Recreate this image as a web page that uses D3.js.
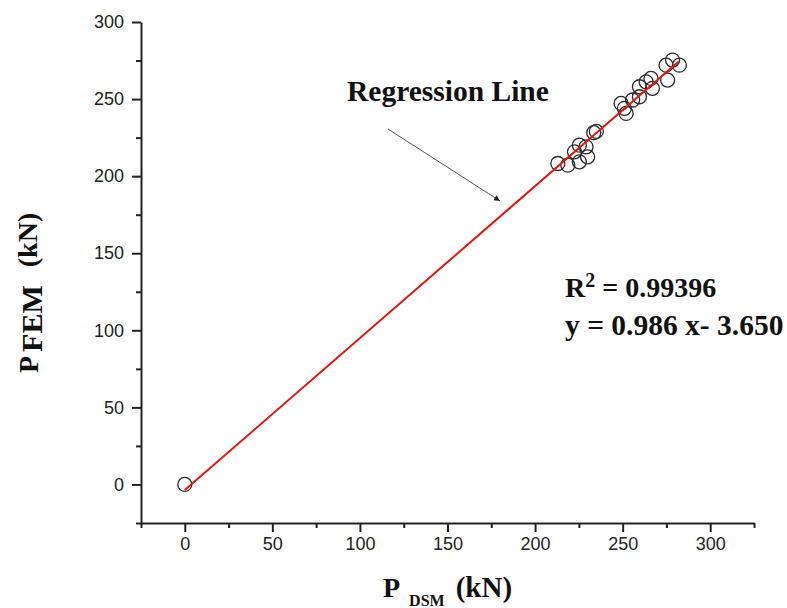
<!DOCTYPE html>
<html>
<head>
<meta charset="utf-8">
<script src="https://cdn.jsdelivr.net/npm/d3@7"></script>
<style>
    body { margin: 0; background: #fff; }
    .tick text { font-family: "Liberation Sans", Arial, sans-serif; font-size: 18px; fill: #222; }
    .lbl { font-family: "Liberation Serif", "Times New Roman", serif; font-weight: bold; fill: #111; }
</style>
</head>
<body>
<div id="chart-area"></div>
<script>

// data
let pDSM = [0, 213, 218.7, 222.5, 225.3, 229.1, 230, 225.3, 233.5, 235,
    249.1, 252, 251, 255.7, 259.6, 259.6, 263.4, 266.2, 267, 275.7, 274.8, 278.5, 282.4];
let pFEM = [0, 208.2, 207.1, 215.8, 220.1, 219, 212.5, 209.3, 228.2, 229,
    247.2, 240.7, 244, 249.4, 251.5, 258, 261.2, 263.4, 257, 262.3, 272, 275.3, 272];

let xMajorTicks = [0, 50, 100, 150, 200, 250, 300];
let xMinorTicks = [-25, 25, 75, 125, 175, 225, 275, 325];
let yMajorTicks = [0, 50, 100, 150, 200, 250, 300];
let yMinorTicks = [-25, 25, 75, 125, 175, 225, 275];

// regression y = 0.986 x - 3.650
let slope = 0.986;
let intercept = -3.650;
let fitRange = [0, 282];


class ScatterVis {

    constructor(parentElement) {
        this.parentElement = parentElement;
        this.displayData = pDSM.map((d, i) => ({x: d, y: pFEM[i]}));
        this.initVis();
    }

    initVis() {
        let vis = this;

        vis.width = 787;
        vis.height = 608;

        vis.svg = d3.select("#" + vis.parentElement).append("svg")
            .attr("width", vis.width)
            .attr("height", vis.height);

        vis.x = d3.scaleLinear().domain([-25, 325]).range([141, 754]);
        vis.y = d3.scaleLinear().domain([-25, 300]).range([523, 22]);

        // axes: minor ticks first, then major with labels
        vis.svg.append("g")
            .attr("transform", "translate(0,523)")
            .call(d3.axisBottom(vis.x).tickValues(xMinorTicks).tickSize(5).tickSizeOuter(0).tickFormat(""))
            .call(g => g.select(".domain").remove());
        vis.svg.append("g")
            .attr("class", "x-axis axis")
            .attr("transform", "translate(0,523)")
            .call(d3.axisBottom(vis.x).tickValues(xMajorTicks).tickSize(9).tickSizeOuter(0).tickPadding(5));

        vis.svg.append("g")
            .attr("transform", "translate(141,0)")
            .call(d3.axisLeft(vis.y).tickValues(yMinorTicks).tickSize(5).tickSizeOuter(0).tickFormat(""))
            .call(g => g.select(".domain").remove());
        vis.svg.append("g")
            .attr("class", "y-axis axis")
            .attr("transform", "translate(141,0)")
            .call(d3.axisLeft(vis.y).tickValues(yMajorTicks).tickSize(9).tickSizeOuter(0).tickPadding(8));

        vis.svg.selectAll(".domain, .tick line")
            .attr("stroke", "#222")
            .attr("stroke-width", 2);

        vis.updateVis();
    }

    updateVis() {
        let vis = this;

        vis.svg.selectAll(".pt")
            .data(vis.displayData)
            .enter().append("circle")
            .attr("class", "pt")
            .attr("cx", d => vis.x(d.x))
            .attr("cy", d => vis.y(d.y))
            .attr("r", 7)
            .attr("fill", "none")
            .attr("stroke", "#2a2a2a")
            .attr("stroke-width", 1.3);

        let line = d3.line()
            .x(d => vis.x(d))
            .y(d => vis.y(slope * d + intercept));

        vis.svg.append("path")
            .datum(fitRange)
            .attr("d", line)
            .attr("fill", "none")
            .attr("stroke", "#e41414")
            .attr("stroke-width", 2);

        // annotation arrow
        vis.svg.append("defs").append("marker")
            .attr("id", "arrow")
            .attr("viewBox", "0 0 10 10")
            .attr("refX", 10).attr("refY", 5)
            .attr("markerWidth", 10).attr("markerHeight", 6)
            .attr("markerUnits", "userSpaceOnUse")
            .attr("orient", "auto")
            .append("path")
            .attr("d", "M0,0L10,5L0,10Z")
            .attr("fill", "#222");

        vis.svg.append("line")
            .attr("x1", 388).attr("y1", 129)
            .attr("x2", 500).attr("y2", 201)
            .attr("stroke", "#555")
            .attr("stroke-width", 1)
            .attr("marker-end", "url(#arrow)");

        vis.svg.append("text")
            .attr("class", "lbl")
            .attr("x", 347).attr("y", 101)
            .style("font-size", "29.5px")
            .text("Regression Line");

        let r2 = vis.svg.append("text")
            .attr("class", "lbl")
            .attr("x", 565).attr("y", 297)
            .style("font-size", "28px");
        r2.append("tspan").text("R");
        r2.append("tspan").attr("dy", -10).style("font-size", "20px").text("2");
        r2.append("tspan").attr("dy", 10).text(" = 0.99396");

        vis.svg.append("text")
            .attr("class", "lbl")
            .attr("x", 565).attr("y", 335)
            .style("font-size", "29.5px")
            .text("y = 0.986 x- 3.650");

        // axis titles
        let xt = vis.svg.append("text")
            .attr("class", "lbl")
            .attr("x", 383).attr("y", 597)
            .style("font-size", "28px");
        xt.append("tspan").text("P");
        xt.append("tspan").attr("dx", 9).attr("dy", 9).style("font-size", "16px").text("DSM");
        xt.append("tspan").attr("dx", 11).attr("dy", -9).style("font-size", "29px").text("(kN)");

        let yt = vis.svg.append("text")
            .attr("class", "lbl")
            .attr("transform", "translate(38,373) rotate(-90)")
            .style("font-size", "28px");
        yt.append("tspan").text("P");
        yt.append("tspan").attr("dx", 4).attr("dy", 4).style("font-size", "30px").text("FEM");
        yt.append("tspan").attr("dx", 18).attr("dy", -5).text("(kN)");
    }
}

let scatterVis = new ScatterVis("chart-area");

</script>
</body>
</html>
